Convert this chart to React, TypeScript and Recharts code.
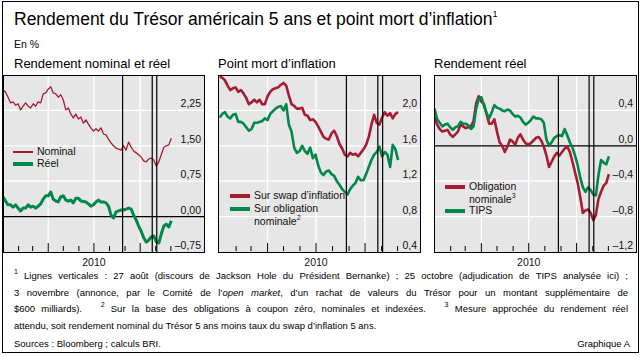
import React from 'react';
import { LineChart, Line, XAxis, YAxis, CartesianGrid, ReferenceLine } from 'recharts';

const FONT = '"Liberation Sans", Arial, Helvetica, sans-serif';
const RED = '#a61c32';
const GREEN = '#00874a';
const BG = '#e6e6e6';
const INK = '#111';

// day offsets from 1 January 2010
const days = [
  0, 5, 10, 15, 20, 25, 30, 35, 40, 45, 50, 55, 60, 65, 70, 75, 80, 85, 90, 95,
  100, 105, 110, 115, 120, 125, 130, 135, 140, 145, 150, 155, 160, 165, 170, 175, 180, 185, 190, 195,
  200, 205, 210, 215, 220, 225, 230, 235, 240, 245, 250, 255, 260, 265, 270, 275, 280, 285, 290, 295,
  300, 305, 310, 315, 320, 325, 330, 335,
];

// Panel 1 : Rendement nominal et réel
const nominal = [
  2.68, 2.64, 2.53, 2.41, 2.43, 2.36, 2.39, 2.26, 2.34, 2.41, 2.34, 2.30, 2.39, 2.34, 2.43, 2.41, 2.60, 2.62, 2.70, 2.75,
  2.62, 2.60, 2.53, 2.58, 2.47, 2.26, 2.30, 2.17, 2.09, 2.17, 2.07, 2.11, 1.98, 2.05, 1.96, 1.88, 1.81, 1.86, 1.81, 1.88,
  1.75, 1.73, 1.64, 1.56, 1.50, 1.45, 1.43, 1.41, 1.50, 1.41, 1.58, 1.47, 1.39, 1.35, 1.31, 1.26, 1.18, 1.16, 1.22, 1.24,
  1.20, 1.07, 1.16, 1.31, 1.47, 1.50, 1.52, 1.66,
];
const reel = [
  0.42, 0.33, 0.25, 0.25, 0.20, 0.25, 0.18, 0.12, 0.18, 0.18, 0.25, 0.20, 0.22, 0.18, 0.22, 0.27, 0.37, 0.44, 0.44, 0.52,
  0.37, 0.33, 0.31, 0.42, 0.44, 0.35, 0.33, 0.35, 0.29, 0.39, 0.39, 0.33, 0.32, 0.31, 0.27, 0.22, 0.25, 0.31, 0.35, 0.31,
  0.31, 0.29, 0.22, 0.03, -0.03, 0.10, 0.12, 0.14, 0.14, 0.16, 0.18, 0.16, 0.03, -0.07, -0.20, -0.31, -0.45, -0.54, -0.50, -0.43,
  -0.41, -0.53, -0.56, -0.37, -0.20, -0.16, -0.22, -0.09,
];

// Panel 2 : Point mort d'inflation
const swapInflation = [
  2.38, 2.37, 2.34, 2.28, 2.23, 2.25, 2.26, 2.21, 2.23, 2.19, 2.14, 2.07, 2.09, 2.12, 2.09, 2.12, 2.07, 2.07, 2.16, 2.21,
  2.24, 2.25, 2.26, 2.29, 2.31, 2.28, 2.17, 2.07, 2.05, 2.02, 2.02, 2.03, 1.95, 1.94, 1.89, 1.90, 1.87, 1.82, 1.76, 1.70,
  1.68, 1.67, 1.74, 1.77, 1.71, 1.62, 1.57, 1.50, 1.48, 1.52, 1.50, 1.51, 1.48, 1.52, 1.56, 1.61, 1.70, 1.84, 1.95, 1.86,
  1.84, 1.92, 1.98, 1.94, 1.97, 1.91, 1.96, 1.98,
];
const obligNominale = [
  1.92, 1.96, 1.98, 1.93, 1.91, 1.95, 1.96, 1.87, 1.87, 1.85, 1.81, 1.77, 1.79, 1.86, 1.86, 1.87, 1.88, 1.91, 1.89, 1.96,
  1.99, 2.02, 2.04, 2.05, 2.00, 2.07, 1.84, 1.76, 1.58, 1.52, 1.54, 1.60, 1.54, 1.51, 1.58, 1.46, 1.50, 1.38, 1.30, 1.27,
  1.31, 1.32, 1.28, 1.26, 1.20, 1.16, 1.11, 1.08, 1.05, 1.11, 1.15, 1.18, 1.25, 1.21, 1.21, 1.28, 1.36, 1.44, 1.50, 1.53,
  1.59, 1.48, 1.53, 1.50, 1.36, 1.61, 1.56, 1.44,
];

// Panel 3 : Rendement réel
const reelObligation = [
  0.33, 0.24, 0.19, 0.16, 0.17, 0.18, 0.13, 0.10, 0.13, 0.16, 0.24, 0.22, 0.20, 0.21, 0.22, 0.28, 0.48, 0.56, 0.50, 0.47,
  0.36, 0.25, 0.25, 0.30, 0.16, 0.04, 0.00, -0.07, -0.01, 0.07, 0.05, 0.01, 0.09, 0.13, 0.07, 0.03, 0.01, 0.03, 0.06, 0.09,
  0.10, 0.06, -0.01, -0.11, -0.24, -0.18, -0.12, -0.08, -0.11, -0.07, -0.03, -0.01, -0.07, -0.18, -0.30, -0.42, -0.58, -0.76, -0.73, -0.72,
  -0.76, -0.84, -0.78, -0.60, -0.52, -0.45, -0.42, -0.32,
];
const tips = [
  0.42, 0.30, 0.26, 0.22, 0.24, 0.25, 0.21, 0.18, 0.21, 0.22, 0.27, 0.25, 0.25, 0.23, 0.19, 0.22, 0.42, 0.53, 0.55, 0.45,
  0.37, 0.31, 0.38, 0.46, 0.43, 0.42, 0.40, 0.39, 0.41, 0.40, 0.36, 0.33, 0.34, 0.32, 0.27, 0.24, 0.26, 0.29, 0.33, 0.31,
  0.31, 0.30, 0.26, 0.07, 0.00, 0.04, 0.09, 0.11, 0.12, 0.11, 0.19, 0.12, 0.04, -0.02, -0.11, -0.22, -0.36, -0.47, -0.52, -0.47,
  -0.50, -0.55, -0.56, -0.33, -0.16, -0.19, -0.21, -0.12,
];

// Vertical lines: 27 Aug, 25 Oct, 3 Nov 2010
const eventDays = [238, 297, 306];
const quarterDays = [90, 181, 273];
const monthDays = [31, 59, 120, 151, 212, 243, 304, 334];
const yearLabelDay = 181;
const yearLabel = '2010';

const p1Ticks = [-0.75, 0, 0.75, 1.5, 2.25];
const p2Ticks = [0.4, 0.8, 1.2, 1.6, 2.0];
const p3Ticks = [-1.2, -0.8, -0.4, 0, 0.4];

const PLOT_TOP = 75;
const PLOT_H = 177;
const AXIS_H = 20;

type SeriesDef = { key: string; values: number[]; color: string; width: number };

type PanelProps = {
  left: number;
  width: number;
  xDomain: [number, number];
  yDomain: [number, number];
  yTicks: number[];
  gridY: number[];
  zero: boolean;
  decimals: number;
  series: SeriesDef[];
};

const fmtNum = (v: number, dec: number) =>
  (v < -1e-9 ? '\u2013' : '') + Math.abs(v).toFixed(dec).replace('.', ',');

function Panel({ left, width, xDomain, yDomain, yTicks, gridY, zero, decimals, series }: PanelProps) {
  const rows = days.map((d, i) => {
    const r: Record<string, number | null> = { d };
    series.forEach((s) => {
      r[s.key] = s.values[i] ?? null;
    });
    return r;
  });
  const yTick = (props: any) => {
    const { y, payload } = props;
    return (
      <text x={width - 4} y={y - 3} textAnchor="end" fontSize={10.5} fontFamily={FONT} fill={INK}>
        {fmtNum(payload.value, decimals)}
      </text>
    );
  };
  const xTick = (props: any) => {
    const { x } = props;
    return (
      <text x={x} y={PLOT_H + 14} textAnchor="middle" fontSize={10.5} fontFamily={FONT} fill={INK}>
        {yearLabel}
      </text>
    );
  };
  const emptyTick = () => <g />;
  return (
    <div style={{ position: 'absolute', left, top: PLOT_TOP, width, height: PLOT_H + AXIS_H }}>
      <LineChart width={width} height={PLOT_H + AXIS_H} data={rows} margin={{ top: 0, right: 0, bottom: 0, left: 0 }}>
        <CartesianGrid fill={BG} stroke="#ffffff" strokeWidth={1.3} horizontalValues={gridY} verticalValues={quarterDays} />
        <XAxis dataKey="d" type="number" domain={xDomain} ticks={[yearLabelDay]} tick={xTick} tickLine={false} axisLine={false} height={AXIS_H} allowDataOverflow interval={0} />
        <XAxis xAxisId="minor" dataKey="d" type="number" domain={xDomain} ticks={monthDays} mirror tickSize={5} tick={emptyTick} axisLine={false} tickLine={{ stroke: '#000', strokeWidth: 1 }} height={1} allowDataOverflow interval={0} />
        <XAxis xAxisId="major" dataKey="d" type="number" domain={xDomain} ticks={quarterDays} mirror tickSize={9} tick={emptyTick} axisLine={false} tickLine={{ stroke: '#000', strokeWidth: 1 }} height={1} allowDataOverflow interval={0} />
        <YAxis type="number" domain={yDomain} ticks={yTicks} orientation="right" mirror axisLine={false} tickLine={false} tick={yTick} width={40} allowDataOverflow interval={0} />
        {zero && <ReferenceLine y={0} stroke="#000" strokeWidth={1.2} />}
        {series.map((s) => (
          <Line key={s.key} dataKey={s.key} stroke={s.color} strokeWidth={s.width} dot={false} isAnimationActive={false} connectNulls={false} strokeLinejoin="round" />
        ))}
        {eventDays.map((d) => (
          <ReferenceLine key={d} x={d} stroke="#000" strokeWidth={1.2} />
        ))}
      </LineChart>
      <div style={{ position: 'absolute', left: 0, top: 0, width, height: PLOT_H + 1, border: '1px solid #000', boxSizing: 'border-box', pointerEvents: 'none' }} />
    </div>
  );
}

const supStyle: React.CSSProperties = { fontSize: 7, verticalAlign: 'baseline', position: 'relative', top: -5 };

function LegendItem({ x, y, color, thickness, label }: { x: number; y: number; color: string; thickness: number; label: React.ReactNode }) {
  return (
    <>
      <div style={{ position: 'absolute', left: x, top: y - thickness / 2, width: 20, height: thickness, background: color }} />
      <div style={{ position: 'absolute', left: x + 24, top: y - 7, fontSize: 10.5, lineHeight: '13px', fontFamily: FONT, color: INK, whiteSpace: 'nowrap' }}>{label}</div>
    </>
  );
}

const textStyle: React.CSSProperties = { position: 'absolute', fontFamily: FONT, color: '#000', whiteSpace: 'nowrap' };

export default function App() {
  return (
    <div style={{ position: 'absolute', left: 0, top: 0, width: 641, height: 357, background: '#fff', overflow: 'hidden' }}>
      <div style={{ position: 'absolute', left: 2, top: 1, width: 637, height: 352, border: '1px solid #000', boxSizing: 'border-box' }} />
      <div style={{ ...textStyle, left: 14, top: 9, fontSize: 17.5 }}>
        Rendement du Trésor américain 5 ans et point mort d’inflation<span style={{ fontSize: 9, position: 'relative', top: -8 }}>1</span>
      </div>
      <div style={{ ...textStyle, left: 14, top: 38, fontSize: 10.5 }}>En %</div>
      <div style={{ ...textStyle, left: 14, top: 56, fontSize: 13 }}>Rendement nominal et réel</div>
      <div style={{ ...textStyle, left: 218, top: 56, fontSize: 13 }}>Point mort d’inflation</div>
      <div style={{ ...textStyle, left: 434, top: 56, fontSize: 13 }}>Rendement réel</div>

      <Panel
        left={3}
        width={202}
        xDomain={[0, 402]}
        yDomain={[-0.75, 3.0]}
        yTicks={p1Ticks}
        gridY={[0.75, 1.5, 2.25]}
        zero
        decimals={2}
        series={[
          { key: 'nominal', values: nominal, color: RED, width: 1.3 },
          { key: 'reel', values: reel, color: GREEN, width: 3 },
        ]}
      />
      <Panel
        left={218}
        width={203}
        xDomain={[-3, 378]}
        yDomain={[0.4, 2.4]}
        yTicks={p2Ticks}
        gridY={[0.8, 1.2, 1.6, 2.0]}
        zero={false}
        decimals={1}
        series={[
          { key: 'swap', values: swapInflation, color: RED, width: 2.6 },
          { key: 'oblig', values: obligNominale, color: GREEN, width: 2.6 },
        ]}
      />
      <Panel
        left={434}
        width={203}
        xDomain={[-1, 389]}
        yDomain={[-1.2, 0.8]}
        yTicks={p3Ticks}
        gridY={[-0.8, -0.4, 0.4]}
        zero
        decimals={1}
        series={[
          { key: 'reelOblig', values: reelObligation, color: RED, width: 2.6 },
          { key: 'tips', values: tips, color: GREEN, width: 2.6 },
        ]}
      />

      <LegendItem x={13} y={152} color={RED} thickness={1.5} label="Nominal" />
      <LegendItem x={13} y={164} color={GREEN} thickness={4} label="Réel" />
      <LegendItem x={230} y={196} color={RED} thickness={4} label="Sur swap d’inflation" />
      <LegendItem x={230} y={209} color={GREEN} thickness={4} label={<span>Sur obligation<br />nominale<span style={supStyle}>2</span></span>} />
      <LegendItem x={445} y={187} color={RED} thickness={4} label={<span>Obligation<br />nominale<span style={supStyle}>3</span></span>} />
      <LegendItem x={445} y={211} color={GREEN} thickness={4} label="TIPS" />

      <div style={{ position: 'absolute', left: 14, top: 268, width: 614, fontFamily: FONT, fontSize: 9.5, lineHeight: '16px', color: '#000' }}>
        <div style={{ textAlign: 'justify', textAlignLast: 'justify' }}>
          <span style={supStyle}>1</span> Lignes verticales : 27 août (discours de Jackson Hole du Président Bernanke) ; 25 octobre (adjudication de TIPS analysée ici) ;
        </div>
        <div style={{ textAlign: 'justify', textAlignLast: 'justify' }}>
          3 novembre (annonce, par le Comité de l’<i>open market</i>, d’un rachat de valeurs du Trésor pour un montant supplémentaire de
        </div>
        <div style={{ textAlign: 'justify', textAlignLast: 'justify' }}>
          $600 milliards).&nbsp;&nbsp; <span style={supStyle}>2</span> Sur la base des obligations à coupon zéro, nominales et indexées.&nbsp;&nbsp; <span style={supStyle}>3</span> Mesure approchée du rendement réel
        </div>
        <div>attendu, soit rendement nominal du Trésor 5 ans moins taux du swap d’inflation 5 ans.</div>
      </div>
      <div style={{ ...textStyle, left: 14, top: 338, fontSize: 9.5 }}>Sources : Bloomberg ; calculs BRI.</div>
      <div style={{ ...textStyle, right: 11, top: 338, fontSize: 9.5 }}>Graphique A</div>
    </div>
  );
}
